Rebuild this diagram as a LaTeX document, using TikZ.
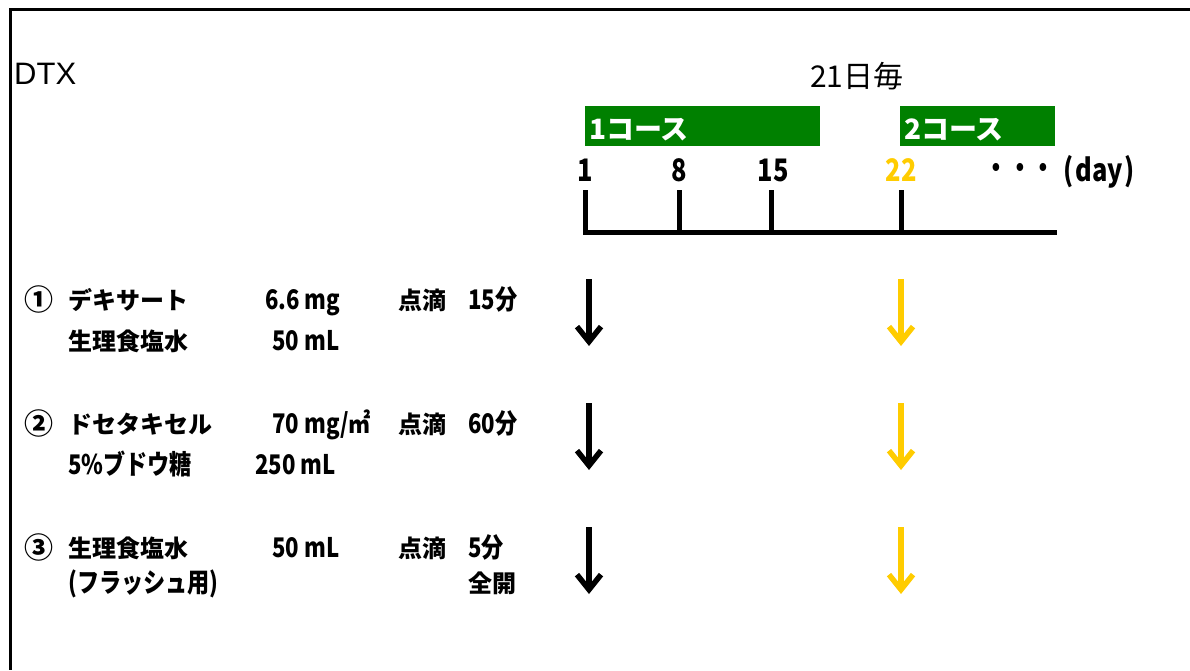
\documentclass[tikz,border=0pt]{standalone}
\usepackage{fontspec}
\setmainfont{Liberation Sans}
\newfontfamily\jp{Noto Sans CJK JP}
\newfontfamily\jpc{Noto Sans CJK JP}[FakeStretch=0.82]
\usetikzlibrary{arrows.meta}
\definecolor{cgreen}{RGB}{0,128,0}
\definecolor{cyellow}{RGB}{255,204,0}
\begin{document}
\begin{tikzpicture}[x=1pt,y=-1pt,
  txt/.style={inner sep=0pt, anchor=base west, font=\jp\bfseries\fontsize{24}{24}\selectfont},
  ctxt/.style={inner sep=0pt, anchor=base west, font=\jpc\bfseries\fontsize{27}{27}\selectfont},
  circ/.style={inner sep=0pt, anchor=base west, font=\jp\bfseries\fontsize{29}{29}\selectfont},
  num/.style={inner sep=0pt, anchor=base, font=\jpc\bfseries\fontsize{31}{31}\selectfont},
  course/.style={fill=cgreen, inner sep=0pt, minimum height=40pt, anchor=north west},
  ctext/.style={inner sep=0pt, anchor=base west, text=white, font=\jp\bfseries\fontsize{28}{28}\selectfont},
  axis/.style={line width=5pt},
  dnb/.style={line width=5.5pt, draw=black, -{Straight Barb[length=15pt,width=24pt,line width=5.5pt]}},
  dny/.style={line width=5.5pt, draw=cyellow, -{Straight Barb[length=15pt,width=24pt,line width=5.5pt]}}]
\useasboundingbox (0,0) rectangle (1190,670);
\fill[white] (0,0) rectangle (1190,670);
% frame
\coordinate (ftl) at (10,9);
\coordinate (ftr) at (1190,9);
\coordinate (fbl) at (10,670);
\draw[line width=3pt] (ftr) -- (ftl) -- (fbl);
% title
\node[inner sep=0pt, anchor=base west, font=\fontsize{31}{31}\selectfont] (dtx) at (14,84) {DTX};
\node[inner sep=0pt, anchor=base west, font=\jp\fontsize{30}{30}\selectfont] (every) at (810,87) {21日毎};
% course boxes
\node[course, minimum width=235pt] (c1) at (585,106) {};
\node[ctext] (c1t) at (589,139) {1コース};
\node[course, minimum width=155pt] (c2) at (900,106) {};
\node[ctext] (c2t) at (904,139) {2コース};
% day numbers
\node[num] (d1) at (585,181) {1};
\node[num] (d8) at (679,181) {8};
\node[num] (d15) at (773,181) {15};
\node[num, text=cyellow] (d22) at (901,181) {22};
\node[inner sep=0pt, anchor=base, font=\jpc\bfseries\fontsize{29}{29}\selectfont] (dots) at (1020,178) {・・・};
\node[num, anchor=base west] (day) at (1063,181) {(\kern2pt day\kern2pt)};
% axis
\coordinate (t1) at (585,190);
\coordinate (t8) at (679,190);
\coordinate (t15) at (771,190);
\coordinate (t22) at (901,190);
\coordinate (b1) at (585,232);
\coordinate (b8) at (679,232);
\coordinate (b15) at (771,232);
\coordinate (b22) at (901,232);
\coordinate (bend) at (1057,232);
\draw[axis] (t1) -- (b1) -- (bend);
\draw[axis] (t8) -- (b8);
\draw[axis] (t15) -- (b15);
\draw[axis] (t22) -- (b22);
% row 1
\node[circ] (n1) at (24,310) {①};
\node[txt] (r1a) at (68,309) {デキサート};
\node[ctxt] (r1b) at (265,309) {6.6 mg};
\node[txt] (r1c) at (398,309) {点滴};
\node[ctxt] (r1d) at (468,309) {15分};
\node[txt] (r1e) at (68,350) {生理食塩水};
\node[ctxt] (r1f) at (272,350) {50 mL};
% row 2
\node[circ] (n2) at (24,434) {②};
\node[txt] (r2a) at (68,433) {ドセタキセル};
\node[ctxt] (r2b) at (272,433) {70 mg/㎡};
\node[txt] (r2c) at (398,433) {点滴};
\node[ctxt] (r2d) at (468,433) {60分};
\node[ctxt] (r2e) at (68,474) {5\%ブドウ糖};
\node[ctxt] (r2f) at (255,474) {250 mL};
% row 3
\node[circ] (n3) at (24,558) {③};
\node[txt] (r3a) at (68,557) {生理食塩水};
\node[ctxt] (r3b) at (272,557) {50 mL};
\node[txt] (r3c) at (398,557) {点滴};
\node[ctxt] (r3d) at (468,557) {5分};
\node[ctxt] (r3e) at (68,592) {(フラッシュ用)};
\node[txt] (r3f) at (468,592) {全開};
% arrows
\coordinate (a1s) at (589,279); \coordinate (a1e) at (589,346);
\coordinate (a2s) at (589,403); \coordinate (a2e) at (589,470);
\coordinate (a3s) at (589,527); \coordinate (a3e) at (589,594);
\coordinate (y1s) at (901,279); \coordinate (y1e) at (901,346);
\coordinate (y2s) at (901,403); \coordinate (y2e) at (901,470);
\coordinate (y3s) at (901,527); \coordinate (y3e) at (901,594);
\draw[dnb] (a1s) -- (a1e);
\draw[dnb] (a2s) -- (a2e);
\draw[dnb] (a3s) -- (a3e);
\draw[dny] (y1s) -- (y1e);
\draw[dny] (y2s) -- (y2e);
\draw[dny] (y3s) -- (y3e);
\end{tikzpicture}
\end{document}
